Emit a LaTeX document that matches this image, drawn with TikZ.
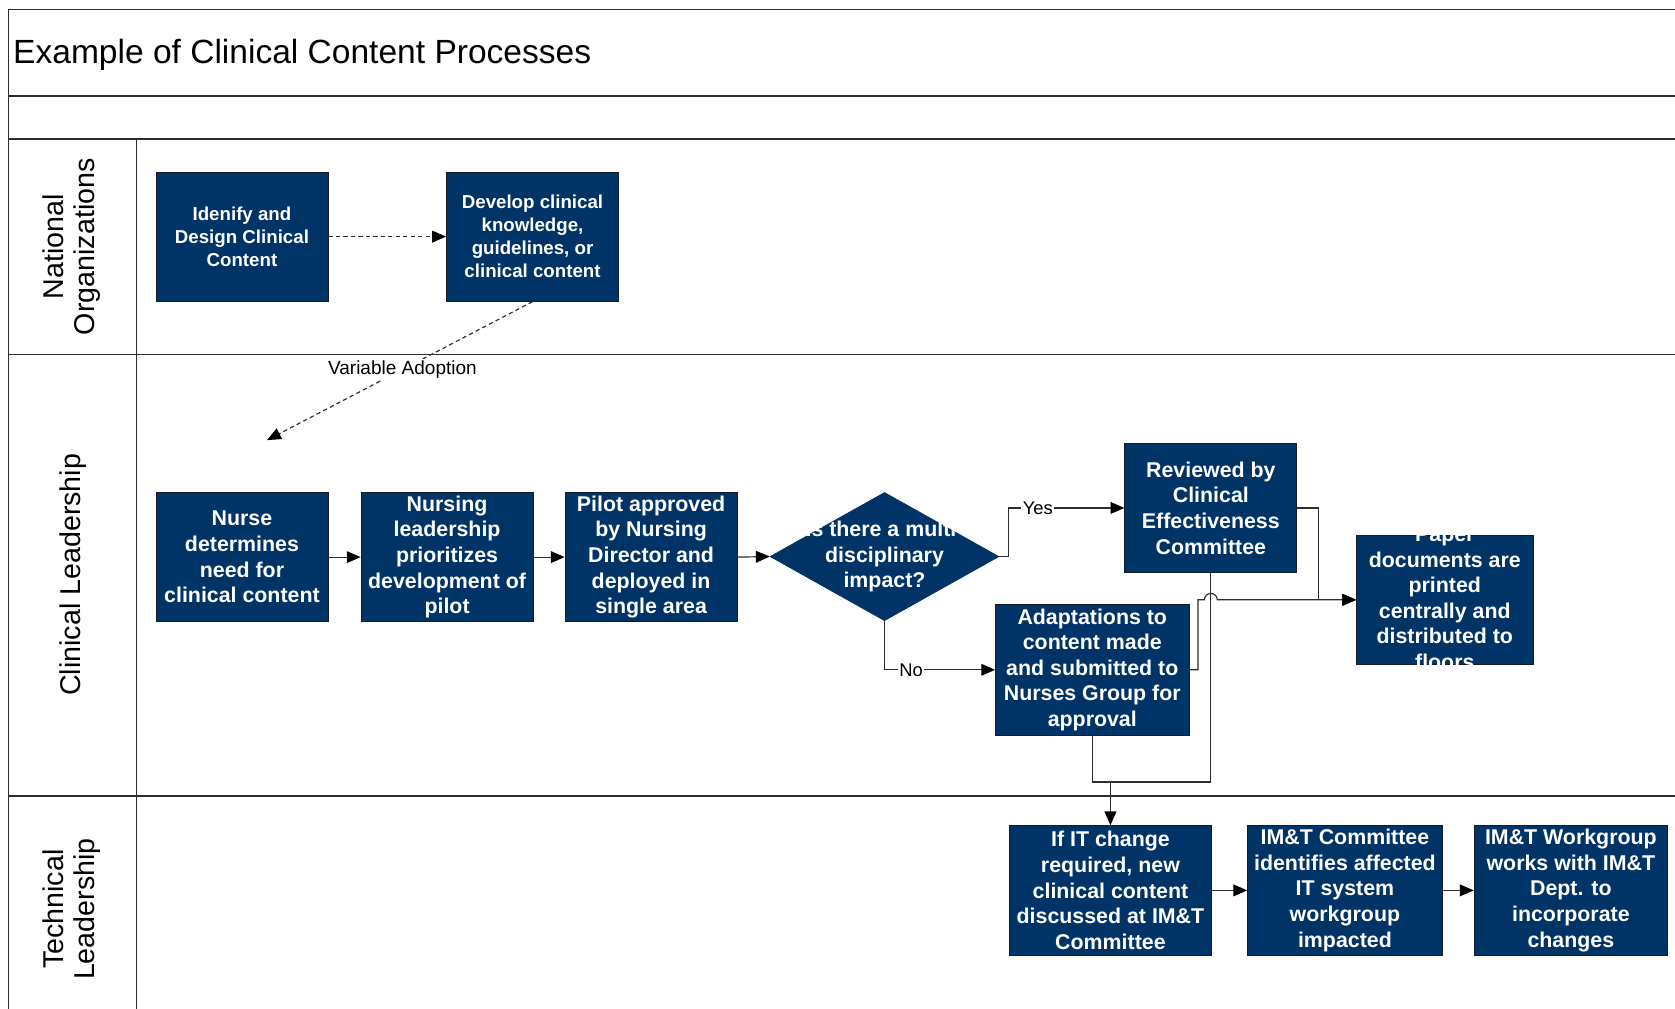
\documentclass[tikz,border=0pt]{standalone}
\usepackage{fontspec}
\setmainfont{Liberation Sans}
\usetikzlibrary{arrows.meta,shapes.geometric}
\definecolor{navy}{RGB}{0,51,102}
\definecolor{boxedge}{RGB}{20,28,40}
\definecolor{rulegray}{RGB}{45,45,45}

\begin{document}
\begin{tikzpicture}[x=0.5pt,y=-0.5pt,
  lane/.style={draw=rulegray, line width=0.65pt},
  lanelabel/.style={rotate=90, align=center, inner sep=0pt,
    font=\fontsize{13.4}{14.8}\selectfont},
  box/.style={draw=boxedge, line width=0.4pt, fill=navy, text=white,
    inner sep=0pt, align=center, font=\bfseries\fontsize{10}{12}\selectfont},
  smallbox/.style={box, font=\bfseries\fontsize{8.75}{10.75}\selectfont},
  boxtext/.style={text=white, inner sep=0pt, align=center,
    font=\bfseries\fontsize{10}{12}\selectfont},
  conn/.style={draw=rulegray, line width=0.55pt},
  arr/.style={conn, -{Triangle[length=6.5pt,width=5.5pt,color=black]}},
  dashconn/.style={arr, dash pattern=on 2pt off 1.5pt},
  lbl/.style={fill=white, inner sep=0.6pt, font=\fontsize{8.6}{10}\selectfont}]

\useasboundingbox (0,0) rectangle (1568,944);

% swimlane frame
\draw[lane] (1570,9) -- (8,9) -- (8,946);
\draw[lane] (8,90) -- (1570,90);
\draw[lane] (8,130) -- (1570,130);
\draw[lane] (8,332) -- (1570,332);
\draw[lane] (8,745) -- (1570,745);
\draw[lane] (128,130) -- (128,946);

\node[anchor=west, inner sep=0pt, font=\fontsize{15.7}{18}\selectfont] (title) at (12,51)
  {Example of Clinical Content Processes};

\node[lanelabel] (natl) at (67,231) {National\\Organizations};
\node[lanelabel] (clin) at (68,538) {Clinical Leadership};
\node[lanelabel] (tech) at (67,851) {Technical\\Leadership};

% national organizations
\node[smallbox, minimum width=80.5pt, minimum height=60.5pt] (A) at (226.5,221.5)
  {Idenify and\\Design Clinical\\Content};
\node[smallbox, minimum width=80.5pt, minimum height=60.5pt] (B) at (498.5,221.5)
  {Develop clinical\\knowledge,\\guidelines, or\\clinical content};

% clinical leadership
\node[box, minimum width=80.5pt, minimum height=60.5pt] (C) at (226.5,521.5)
  {Nurse\\determines\\need for\\clinical content};
\node[box, minimum width=80.5pt, minimum height=60.5pt] (D) at (418.5,521.5)
  {Nursing\\leadership\\prioritizes\\development of\\pilot};
\node[box, minimum width=80.5pt, minimum height=60.5pt] (E) at (609.5,521.5)
  {Pilot approved\\by Nursing\\Director and\\deployed in\\single area};
\node[diamond, fill=navy, draw=navy, inner sep=0pt, minimum width=107pt,
  minimum height=60pt] (F) at (828,521) {};
\node[boxtext] (Ft) at (828,521) {Is there a multi-\\disciplinary\\impact?};
\node[box, minimum width=80.5pt, minimum height=60.5pt] (G) at (1133.5,475.5)
  {Reviewed by\\Clinical\\Effectiveness\\Committee};
\node[box, minimum width=90.5pt, minimum height=61pt] (H) at (1022.5,627)
  {Adaptations to\\content made\\and submitted to\\Nurses Group for\\approval};
% the text of this box runs past its top and bottom edges
\node[box, minimum width=82.5pt, minimum height=60.5pt] (I) at (1352.5,561.5) {};
\node[boxtext] (It) at (1352.5,560)
  {Paper\\documents are\\printed\\centrally and\\distributed to\\floors};

% technical leadership
\node[box, minimum width=94.5pt, minimum height=60.5pt] (J) at (1039.5,833.5)
  {If IT change\\required, new\\clinical content\\discussed at IM\&T\\Committee};
\node[box, minimum width=91pt, minimum height=60.5pt] (K) at (1259,833.5)
  {IM\&T Committee\\identifies affected\\IT system\\workgroup\\impacted};
\node[box, minimum width=90.5pt, minimum height=60.5pt] (L) at (1470.5,833.5)
  {IM\&T Workgroup\\works with IM\&T\\Dept. to\\incorporate\\changes};

% connectors
\coordinate (adopt) at (250,412);
\coordinate (merge) at (1039.5,732);

\draw[dashconn] (A.east) -- (B.west);
\draw[dashconn] (B.south) -- node[lbl, pos=0.49, font=\fontsize{8.9}{10}\selectfont] (va) {Variable Adoption} (adopt);

\draw[arr] (C.east) -- (D.west);
\draw[arr] (D.east) -- (E.west);
\draw[arr] (E.east) -- (F.west);
\draw[arr] (F.east) -- ++(9,0) |- node[lbl, pos=0.625] (yes) {Yes} (G.west);
\draw[arr] (F.south) |- node[lbl, pos=0.62] (no) {No} (H.west);

\draw[arr] (G.east) -- ++(20,0) |- (I.west);
\draw[arr] (H.east) -- ++(8,0) coordinate (h1) -- (h1 |- I.west)
  -- ([xshift=-3pt]G.south |- I.west) arc[start angle=180, end angle=0, radius=3pt]
  -- (I.west);

\draw[conn] (G.south) |- (merge);
\draw[conn] (H.south) |- (merge);
\draw[arr] (merge) -- (J.north);

\draw[arr] (J.east) -- (K.west);
\draw[arr] (K.east) -- (L.west);
\end{tikzpicture}
\end{document}
